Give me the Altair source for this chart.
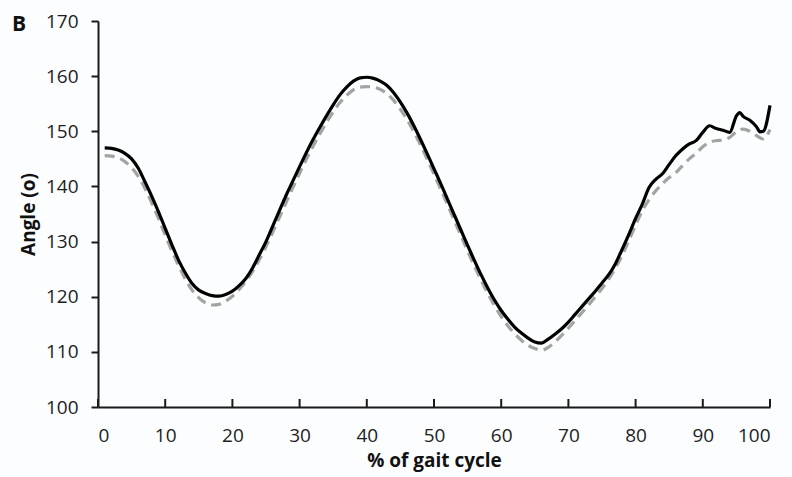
import altair as alt
import pandas as pd

# Joint angle over the gait cycle: solid black trace and dashed grey trace
solid_x = [1, 2, 3, 4, 5, 6, 7, 8, 9, 10, 11, 12, 13, 14, 15, 16, 17, 18, 19, 20,
           21, 22, 23, 24, 25, 26, 27, 28, 29, 30, 31, 32, 33, 34, 35, 36, 37, 38, 39, 40,
           41, 42, 43, 44, 45, 46, 47, 48, 49, 50, 51, 52, 53, 54, 55, 56, 57, 58, 59, 60,
           61, 62, 63, 64, 65, 66, 67, 68, 69, 70, 71, 72, 73, 74, 75, 76, 77, 78, 79, 80,
           81, 82, 83, 84, 85, 86, 87, 88, 89, 90, 91, 92, 93, 94, 95, 95.5, 96, 97, 98,
           98.5, 99, 100]
solid_y = [147.0, 146.9, 146.6, 146.0, 145.0, 143.3, 140.8, 138.2, 135.4, 132.4,
           129.4, 126.6, 124.3, 122.4, 121.2, 120.6, 120.2, 120.1, 120.4, 121.0,
           122.0, 123.3, 125.2, 127.6, 130.0, 132.8, 135.6, 138.4, 141.0, 143.6,
           146.1, 148.5, 150.7, 152.8, 154.8, 156.6, 158.0, 159.1, 159.7, 159.8,
           159.6, 159.1, 158.3, 157.0, 155.3, 153.3, 151.0, 148.5, 145.9, 143.2,
           140.5, 137.7, 134.9, 132.1, 129.3, 126.6, 124.0, 121.6, 119.4, 117.5,
           115.9, 114.5, 113.4, 112.5, 111.8, 111.6, 112.3, 113.2, 114.2, 115.4,
           116.8, 118.2, 119.6, 121.0, 122.5, 124.0, 126.0, 128.6, 131.3, 134.2,
           136.8, 139.8, 141.3, 142.3, 144.0, 145.6, 146.8, 147.7, 148.3, 149.8,
           151.0, 150.5, 150.2, 149.8, 152.8, 153.4, 152.7, 152.0, 150.8,
           149.9, 150.0, 154.7]

dashed_x = list(range(1, 101))
dashed_y = [145.6, 145.5, 145.2, 144.5, 143.4, 141.8, 139.6, 137.0, 134.2, 131.2,
            128.3, 125.6, 123.2, 121.2, 119.8, 118.9, 118.5, 118.6, 119.2, 120.1,
            121.3, 122.8, 124.6, 126.7, 129.1, 131.7, 134.4, 137.1, 139.8, 142.4,
            144.9, 147.3, 149.5, 151.6, 153.5, 155.2, 156.5, 157.5, 158.0, 158.1,
            158.0, 157.6, 156.8, 155.6, 154.0, 152.1, 149.9, 147.5, 144.9, 142.2,
            139.5, 136.7, 133.9, 131.1, 128.3, 125.6, 123.0, 120.6, 118.4, 116.4,
            114.7, 113.3, 112.1, 111.2, 110.6, 110.3, 110.8, 111.8, 113.0, 114.3,
            115.7, 117.1, 118.5, 120.0, 121.5, 123.2, 125.2, 127.5, 130.2, 133.0,
            135.6, 137.6, 139.2, 140.5, 141.6, 142.5, 143.8, 145.0, 146.0, 147.2,
            148.0, 148.3, 148.4, 148.9, 149.9, 150.4, 150.0, 149.2, 148.6, 150.3]

x_ticks = [0, 10, 20, 30, 40, 50, 60, 70, 80, 90, 100]
y_ticks = [100, 110, 120, 130, 140, 150, 160, 170]

FONT = "Open Sans"

solid_df = pd.DataFrame({"pct": solid_x, "angle": solid_y})
dashed_df = pd.DataFrame({"pct": dashed_x, "angle": dashed_y})
tick_df = pd.DataFrame({"pct": x_ticks, "lo": [100] * len(x_ticks), "hi": [101.45] * len(x_ticks)})

x_scale = alt.Scale(domain=[0, 100], nice=False, zero=False)
y_scale = alt.Scale(domain=[100, 170], nice=False, zero=False)

x_axis = alt.Axis(
    values=x_ticks, ticks=False, grid=False, title="% of gait cycle",
    labelFontSize=19, labelFont=FONT, labelColor="#1e1e1e", labelPadding=19,
    titleFontSize=19, titleFont=FONT, titleFontWeight="bold", titleColor="#111111",
    titleY=44, domainColor="#1a1a1a", domainWidth=2,
)
y_axis = alt.Axis(
    values=y_ticks, grid=False, title="Angle (o)",
    labelFontSize=19, labelFont=FONT, labelColor="#1e1e1e", labelPadding=13,
    tickSize=7, tickWidth=2, tickColor="#1a1a1a",
    titleFontSize=19, titleFont=FONT, titleFontWeight="bold", titleColor="#111111",
    titleX=-60, titleY=193, titleBaseline="bottom",
    domainColor="#1a1a1a", domainWidth=2,
)

dashed = alt.Chart(dashed_df).mark_line(
    color="#a3a3a3", strokeWidth=3.2, strokeDash=[10, 6], interpolate="monotone"
).encode(
    x=alt.X("pct:Q", scale=x_scale, axis=x_axis),
    y=alt.Y("angle:Q", scale=y_scale, axis=y_axis),
)

solid = alt.Chart(solid_df).mark_line(
    color="#000000", strokeWidth=3.2, interpolate="monotone"
).encode(
    x=alt.X("pct:Q", scale=x_scale),
    y=alt.Y("angle:Q", scale=y_scale),
)

# inward tick marks on the x axis
xticks = alt.Chart(tick_df).mark_rule(color="#1a1a1a", strokeWidth=2).encode(
    x=alt.X("pct:Q", scale=x_scale),
    y=alt.Y("lo:Q", scale=y_scale),
    y2="hi:Q",
)

chart = alt.layer(dashed, solid, xticks).properties(
    width=672,
    height=386,
    autosize=alt.AutoSizeParams(type="none"),
    padding={"left": 98, "top": 21, "right": 22, "bottom": 70},
    background="#fbfdfe",
    title=alt.TitleParams(
        "B", anchor="start", frame="group", dx=-86, dy=27,
        fontSize=21, fontWeight="bold", font=FONT, color="#111111",
    ),
).configure_view(stroke=None)

chart.save("out.html", embed_options={"renderer": "svg", "actions": False})
